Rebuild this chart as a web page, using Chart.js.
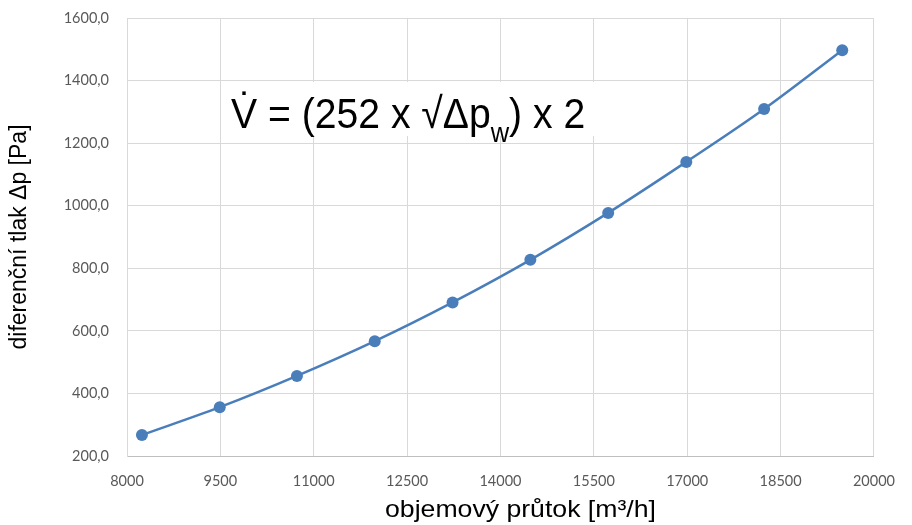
<!DOCTYPE html>
<html>
<head>
<meta charset="utf-8">
<script src="https://cdn.jsdelivr.net/npm/chart.js@4/dist/chart.umd.min.js"></script>
<style>
  html, body { margin: 0; padding: 0; background: #ffffff; }
  #wrap { width: 912px; height: 525px; }
</style>
</head>
<body>
<div id="wrap"><canvas id="c" width="912" height="525"></canvas></div>
<script>
// Data
const flowRates = [8240, 9490, 10730, 11980, 13230, 14480, 15730, 16985, 18235, 19490]; // m³/h
const pressures = [267, 356, 456, 567, 691, 827, 977, 1140, 1309, 1497];                // Pa
const xTicks = [8000, 9500, 11000, 12500, 14000, 15500, 17000, 18500, 20000];
const yTicks = [200, 400, 600, 800, 1000, 1200, 1400, 1600];
const xTitle = 'objemový průtok [m³/h]';
const yTitle = 'diferenční tlak Δp [Pa]';
const formulaMain = 'V\u0307 = (252 x √Δp';
const formulaSub = 'w';
const formulaEnd = ') x 2';

const points = flowRates.map((x, i) => ({ x: x, y: pressures[i] }));

const textPlugin = {
  id: 'texts',
  beforeDatasetsDraw(chart) {
    const ctx = chart.ctx;
    const a = chart.chartArea;
    ctx.save();
    // white label box behind the formula
    ctx.fillStyle = '#ffffff';
    ctx.fillRect(a.left + 94, a.top + 64, 382, 54);
    // formula
    ctx.fillStyle = '#000000';
    ctx.textBaseline = 'alphabetic';
    ctx.textAlign = 'left';
    const base = a.top + 110;
    const sx = 0.91;
    ctx.translate(a.left + 104, base);
    ctx.scale(sx, 1);
    let x = 0;
    ctx.font = '43px "Liberation Sans", Arial, sans-serif';
    ctx.fillText(formulaMain, x, 0);
    x += ctx.measureText(formulaMain).width;
    ctx.font = '28px "Liberation Sans", Arial, sans-serif';
    ctx.fillText(formulaSub, x, 14);
    x += ctx.measureText(formulaSub).width;
    ctx.font = '43px "Liberation Sans", Arial, sans-serif';
    ctx.fillText(formulaEnd, x, 0);
    ctx.restore();

    // x axis title
    ctx.save();
    ctx.fillStyle = '#000000';
    ctx.textAlign = 'center';
    ctx.textBaseline = 'alphabetic';
    ctx.font = '24px "Liberation Sans", Arial, sans-serif';
    ctx.translate((a.left + a.right) / 2 + 20, 517);
    ctx.scale(1.11, 1);
    ctx.fillText(xTitle, 0, 0);
    ctx.restore();
  }
};

new Chart(document.getElementById('c'), {
  type: 'line',
  data: {
    datasets: [{
      data: points,
      borderColor: '#4A7EBB',
      backgroundColor: '#4A7EBB',
      borderWidth: 2.5,
      pointRadius: 6,
      pointHoverRadius: 6,
      pointBorderWidth: 0,
      tension: 0.4,
      cubicInterpolationMode: 'monotone',
      fill: false
    }]
  },
  options: {
    responsive: false,
    animation: false,
    devicePixelRatio: 1,
    layout: { padding: { left: 0, right: 37, top: 18, bottom: 0 } },
    plugins: { legend: { display: false }, tooltip: { enabled: false } },
    scales: {
      x: {
        type: 'linear',
        min: 8000, max: 20000,
        afterBuildTicks(scale) { scale.ticks = xTicks.map(v => ({ value: v })); },
        afterFit(scale) { scale.height = 69; },
        grid: { color: '#d9d9d9', lineWidth: 1, drawTicks: false },
        border: { color: '#bfbfbf', width: 1 },
        ticks: {
          padding: 17,
          color: '#595959',
          font: { family: 'Lato, "Open Sans", sans-serif', size: 14.5 },
          maxRotation: 0,
          callback: v => String(v)
        },
        title: { display: false }
      },
      y: {
        type: 'linear',
        min: 200, max: 1600,
        afterBuildTicks(scale) { scale.ticks = yTicks.map(v => ({ value: v })); },
        afterFit(scale) { scale.width = 127; scale.paddingTop = 0; scale.paddingBottom = 0; },
        grid: { color: '#d9d9d9', lineWidth: 1, drawTicks: false },
        border: { color: '#d9d9d9', width: 1 },
        ticks: {
          padding: 18,
          color: '#595959',
          font: { family: 'Lato, "Open Sans", sans-serif', size: 14.5 },
          callback: v => v.toFixed(1).replace('.', ',')
        },
        title: {
          display: true,
          text: yTitle,
          color: '#000000',
          font: { family: '"Liberation Sans", Arial, sans-serif', size: 23 },
          padding: { top: 6, bottom: 0 }
        }
      }
    }
  },
  plugins: [textPlugin]
});
</script>
</body>
</html>
